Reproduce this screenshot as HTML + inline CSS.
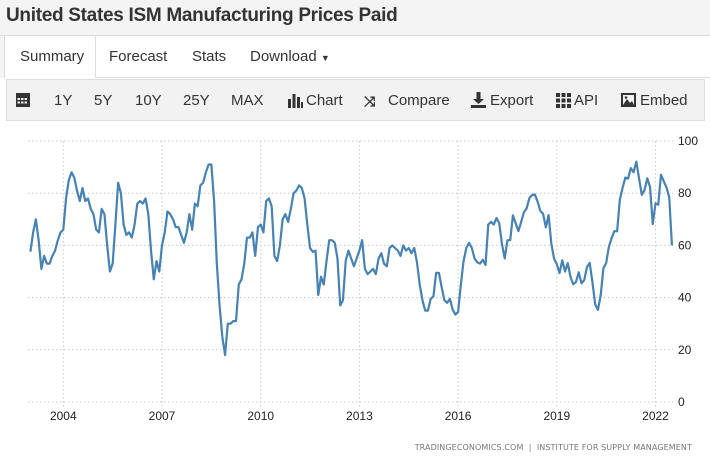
<!DOCTYPE html>
<html><head><meta charset="utf-8"><style>
*{margin:0;padding:0;box-sizing:border-box}
body{width:710px;height:457px;background:#fff;font-family:"Liberation Sans",Arial,sans-serif;position:relative;overflow:hidden;color:#333}
#title{position:absolute;left:0;top:0;width:710px;height:36px;background:#f4f4f4;border-bottom:1px solid #ddd}
#title h1{position:absolute;left:6px;top:5px;font-size:19px;font-weight:bold;color:#333;letter-spacing:-0.3px}
#leftstrip{position:absolute;left:0;top:36px;width:5px;height:42px;background:#f4f4f4;border-right:1px solid #ddd}
#tabline{position:absolute;left:95px;top:77px;width:615px;height:1px;background:#ddd}
.tab{position:absolute;top:48px;font-size:15px;color:#333}
#summary{position:absolute;left:5px;top:36px;width:91px;height:42px;background:#fff;border-right:1px solid #ddd}
#toolbar{position:absolute;left:6px;top:79px;width:699px;height:42px;background:#f2f2f2;border:1px solid #ddd}
.tb{position:absolute;top:92px;font-size:15px;color:#333}
.ic{position:absolute;top:93px;font-size:14px;color:#333;font-weight:bold}
svg{position:absolute;left:0;top:0}
</style></head><body>
<div id="title"><h1>United States ISM Manufacturing Prices Paid</h1></div>
<div id="leftstrip"></div>
<div id="tabline"></div>
<div id="summary"></div>
<span class="tab" style="left:20px">Summary</span>
<span class="tab" style="left:109px">Forecast</span>
<span class="tab" style="left:192px">Stats</span>
<span class="tab" style="left:250px">Download <span style="font-size:9px">&#9660;</span></span>
<div id="toolbar"></div>
<svg width="20" height="20" style="left:15px;top:91px"><rect x="1" y="2" width="14" height="14" fill="#333"/><g fill="#f2f2f2"><rect x="2.5" y="7" width="2.5" height="2"/><rect x="6" y="7" width="2.5" height="2"/><rect x="9.5" y="7" width="2.5" height="2"/><rect x="2.5" y="10.5" width="2.5" height="2"/><rect x="6" y="10.5" width="2.5" height="2"/><rect x="9.5" y="10.5" width="2.5" height="2"/></g></svg>
<span class="tb" style="left:54px">1Y</span>
<span class="tb" style="left:94px">5Y</span>
<span class="tb" style="left:135px">10Y</span>
<span class="tb" style="left:183px">25Y</span>
<span class="tb" style="left:231px">MAX</span>
<svg width="16" height="16" style="left:288px;top:93px"><rect x="0" y="6" width="3" height="9" fill="#333"/><rect x="4.5" y="1" width="3" height="14" fill="#333"/><rect x="9" y="4" width="3" height="11" fill="#333"/><rect x="13" y="9" width="2" height="6" fill="#333"/></svg>
<span class="tb" style="left:306px">Chart</span>
<span class="ic" style="left:364px">&#10536;</span>
<span class="tb" style="left:388px">Compare</span>
<svg width="16" height="16" style="left:471px;top:92px"><rect x="5.5" y="0" width="4" height="8" fill="#333"/><polygon points="2,7 13,7 7.5,12" fill="#333"/><rect x="0" y="13" width="15" height="3" fill="#333"/></svg>
<span class="tb" style="left:490px">Export</span>
<svg width="16" height="16" style="left:556px;top:93px"><g fill="#333"><rect x="0" y="0" width="4" height="4"/><rect x="5.5" y="0" width="4" height="4"/><rect x="11" y="0" width="4" height="4"/><rect x="0" y="5.5" width="4" height="4"/><rect x="5.5" y="5.5" width="4" height="4"/><rect x="11" y="5.5" width="4" height="4"/><rect x="0" y="11" width="4" height="4"/><rect x="5.5" y="11" width="4" height="4"/><rect x="11" y="11" width="4" height="4"/></g></svg>
<span class="tb" style="left:574px">API</span>
<svg width="16" height="16" style="left:621px;top:93px"><rect x="0" y="0" width="15" height="14" fill="#333"/><rect x="2" y="2" width="11" height="10" fill="#f2f2f2"/><polygon points="2,12 6,6 9,10 11,8 13,12" fill="#333"/><circle cx="5" cy="4.5" r="1.3" fill="#333"/></svg>
<span class="tb" style="left:640px">Embed</span>
<svg id="chart" width="710" height="457" style="pointer-events:none"></svg>
<script>
const values2003=[57.6,65,70,62,51,56,53,53,56,58,62,65];
const values2004=[66,78,85,88,86,81,77,82,77,78,74,72];
const values2005=[66,65,74,72,60,50,53,68,84,80,68,64];
const values2006=[65,63,68,76,77,76,78,72,58,47,54,50];
const values2007=[60,65,73,72,70,67,67,64,61,65,72,66];
const values2008=[76,75,83,84,88,91,91,77,53,37,25,18];
const values2009=[30,30,31,31,45,47,53,63,63,65,56,67];
const values2010=[68,65,77,78,75,56,54,60,70,72,69,74];
const values2011=[80,81,83,82,78,68,59,57.5,58,41,48,45];
const values2012=[54,62,62,61,55,37,39,54,58,55,52,55];
const values2013=[58,62,51,49,50,51,49,55,57,53,52,59];
const values2014=[60,59,58,56,60,58,59,57,59,53.5,45,39];
const values2015=[35,35,39.5,40.5,49.5,49.5,44,39,38,39.5,35.5,33.5];
const values2016=[34.5,45,54,59,61,59,55,53.5,53,54.5,52.5,68];
const values2017=[69,68,70.5,68.5,60.5,55,62,62,71.5,68.5,65.5,69];
const values2018=[72.7,74.2,78.1,79.3,79.5,76.8,73.2,72.1,66.9,71.6,60.7,54.9];
const values2019=[52.8,49.4,54.3,50.0,53.2,47.9,45.1,46.0,49.7,45.5,46.7,51.7];
const values2020=[53.3,45.9,37.4,35.3,40.8,51.3,53.2,59.5,62.8,65.5,65.4,77.6];
const values2021=[82.1,86.0,85.6,89.6,88.0,92.1,85.7,79.4,81.2,85.7,82.4,68.2];
const values2022=[76.1,75.6,87.1,84.6,82.2,78.5,60.0];
const startYear=2003;
const yTicks=[0,20,40,60,80,100];
const xTickYears=[2004,2007,2010,2013,2016,2019,2022];
const sourceText="TRADINGECONOMICS.COM  |  INSTITUTE FOR SUPPLY MANAGEMENT";

const series=[].concat(values2003,values2004,values2005,values2006,values2007,values2008,values2009,values2010,values2011,values2012,values2013,values2014,values2015,values2016,values2017,values2018,values2019,values2020,values2021,values2022);
const NS="http://www.w3.org/2000/svg";
const svg=document.getElementById('chart');
function xPos(t){return 63.3+(t-2004)*32.9;}
function yPos(v){return 402-v*2.61;}
function mk(tag,attrs){const e=document.createElementNS(NS,tag);for(const k in attrs)e.setAttribute(k,attrs[k]);svg.appendChild(e);return e;}
yTicks.forEach(v=>{
  const l=mk('line',{x1:28,x2:673,y1:yPos(v),y2:yPos(v),stroke:'#c8c8c8','stroke-dasharray':'1.5,2.5','stroke-width':1});
  
  
  const t=mk('text',{x:678,y:yPos(v)+4,'font-size':12,fill:'#222','font-family':'Liberation Sans, sans-serif'});
  t.textContent=v;
  
  
});
xTickYears.forEach(yr=>{
  const x=xPos(yr);
  const l=mk('line',{x1:x,x2:x,y1:141,y2:407,stroke:'#c8c8c8','stroke-dasharray':'1.5,2.5','stroke-width':1});
  
  
  const t=mk('text',{x:x,y:420,'font-size':12,fill:'#222','text-anchor':'middle','font-family':'Liberation Sans, sans-serif'});
  t.textContent=yr;
  
  
});
let d='';
series.forEach((v,i)=>{const t=startYear+i/12;d+=(i?'L':'M')+xPos(t).toFixed(2)+','+yPos(v).toFixed(2);});
const p=mk('path',{d:d,fill:'none',stroke:'#4682b4','stroke-width':2.2,'stroke-linejoin':'round'});


const s=mk('text',{x:692,y:450,'font-size':8,fill:'#777','text-anchor':'end','letter-spacing':'0.1','font-family':'DejaVu Sans, sans-serif'});
s.textContent=sourceText;


s.setAttribute('xml:space','preserve');
s.style.whiteSpace='pre';
</script>
</body></html>
